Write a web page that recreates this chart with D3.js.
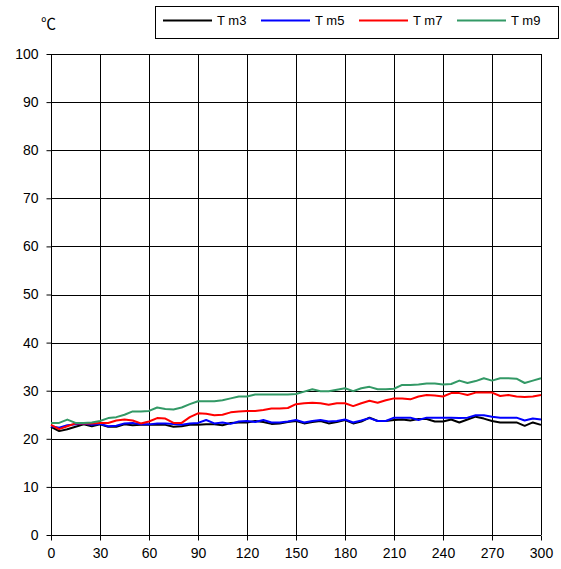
<!DOCTYPE html>
<html>
<head>
<meta charset="utf-8">
<script src="https://cdn.jsdelivr.net/npm/d3@7"></script>
<style>
  body { margin: 0; background: #fff; }
  text { font-family: "Liberation Sans", Arial, sans-serif; }
</style>
</head>
<body>
<div id="chart"></div>
<script>
var width = 561;
var height = 569;

// time axis, every 5 units
var times = d3.range(0, 301, 5);
var xTicks = [0, 30, 60, 90, 120, 150, 180, 210, 240, 270, 300];
var yTicks = [0, 10, 20, 30, 40, 50, 60, 70, 80, 90, 100];

var names = ["T m3", "T m5", "T m7", "T m9"];
var colors = ["#000000", "#0000ff", "#ff0000", "#339966"];

var m3 = [22.5, 21.6, 22.0, 22.5, 23.0, 22.6, 23.0, 22.5, 22.5, 23.0, 22.8, 22.9, 22.9, 22.9, 22.9, 22.5,
  22.6, 22.9, 22.9, 23.0, 23.0, 22.8, 23.3, 23.4, 23.4, 23.7, 23.5, 23.1, 23.2, 23.5, 23.7, 23.2,
  23.5, 23.7, 23.2, 23.5, 23.9, 23.2, 23.6, 24.4, 23.7, 23.7, 23.9, 24.0, 23.8, 24.1, 24.1, 23.6,
  23.6, 24.0, 23.4, 24.0, 24.6, 24.2, 23.7, 23.4, 23.4, 23.4, 22.7, 23.4, 22.9];
var m5 = [22.6, 22.3, 22.8, 23.0, 23.2, 22.9, 23.1, 22.6, 22.7, 23.2, 23.3, 23.0, 23.0, 23.2, 23.2, 23.1,
  22.9, 23.2, 23.3, 23.9, 23.2, 23.4, 23.1, 23.6, 23.7, 23.5, 23.9, 23.4, 23.4, 23.6, 23.9, 23.4,
  23.7, 23.9, 23.6, 23.7, 24.0, 23.4, 23.8, 24.3, 23.7, 23.7, 24.4, 24.4, 24.4, 23.9, 24.4, 24.4,
  24.4, 24.4, 24.3, 24.4, 24.9, 24.9, 24.6, 24.4, 24.4, 24.4, 23.8, 24.2, 24.0];
var m7 = [22.9, 22.0, 22.6, 23.2, 23.2, 23.2, 23.3, 23.3, 23.8, 24.0, 23.8, 23.2, 23.6, 24.3, 24.2, 23.3,
  23.3, 24.5, 25.3, 25.2, 24.9, 25.0, 25.5, 25.7, 25.8, 25.8, 26.0, 26.3, 26.3, 26.4, 27.2, 27.4,
  27.5, 27.4, 27.1, 27.4, 27.4, 26.8, 27.4, 27.9, 27.5, 28.0, 28.4, 28.4, 28.2, 28.8, 29.1, 29.0,
  28.8, 29.5, 29.5, 29.1, 29.6, 29.6, 29.6, 28.9, 29.1, 28.8, 28.7, 28.8, 29.1];
var m9 = [23.3, 23.3, 24.0, 23.3, 23.3, 23.4, 23.7, 24.3, 24.5, 25.0, 25.7, 25.7, 25.8, 26.5, 26.2, 26.1,
  26.5, 27.2, 27.8, 27.8, 27.8, 28.0, 28.4, 28.8, 28.8, 29.2, 29.2, 29.2, 29.2, 29.2, 29.3, 29.8,
  30.3, 29.9, 29.9, 30.2, 30.5, 29.9, 30.5, 30.8, 30.3, 30.3, 30.4, 31.2, 31.2, 31.3, 31.5, 31.5,
  31.3, 31.4, 32.1, 31.6, 32.0, 32.6, 32.1, 32.6, 32.6, 32.5, 31.6, 32.1, 32.6];
var series = [m3, m5, m7, m9];

var svg = d3.select("#chart")
    .append("svg")
    .attr("width", width)
    .attr("height", height);

var margin = ({top: 54, right: 20, bottom: 34, left: 51}),
    iwidth = 541 - margin.left,
    iheight = 535 - margin.top;

var x = d3.scaleLinear().domain([0, 300]).range([0, iwidth]);
var y = d3.scaleLinear().domain([0, 100]).range([iheight, 0]);

var g = svg.append("g")
    .attr("transform", "translate(" + margin.left + "," + margin.top + ")");

// grid lines
g.selectAll(".hgrid")
    .data(yTicks)
  .enter().append("line")
    .attr("x1", 0).attr("x2", iwidth)
    .attr("y1", function(d) { return Math.round(y(d)) + 0.5; })
    .attr("y2", function(d) { return Math.round(y(d)) + 0.5; })
    .attr("stroke", "#000")
    .attr("stroke-width", 1);
g.selectAll(".vgrid")
    .data(xTicks)
  .enter().append("line")
    .attr("y1", 0).attr("y2", iheight)
    .attr("x1", function(d) { return Math.round(x(d)) + 0.5; })
    .attr("x2", function(d) { return Math.round(x(d)) + 0.5; })
    .attr("stroke", "#000")
    .attr("stroke-width", 1);

// axes
g.append("g")
    .attr("transform", "translate(0," + (iheight + 0.5) + ")")
    .call(d3.axisBottom(x).tickValues(xTicks).tickSize(5).tickPadding(8))
    .call(function(a) {
      a.select(".domain").remove();
      a.selectAll("text").style("font-size", "14px").style("fill", "#000");
    });
g.append("g")
    .attr("transform", "translate(0.5,0)")
    .call(d3.axisLeft(y).tickValues(yTicks).tickSize(5).tickPadding(8))
    .call(function(a) {
      a.select(".domain").remove();
      a.selectAll("text").style("font-size", "14px").style("fill", "#000");
    });

// unit label
svg.append("text")
    .attr("x", 41)
    .attr("y", 29)
    .style("font-size", "15px")
    .style("font-family", "'Noto Sans CJK SC', sans-serif")
    .text("℃");

// lines
var line = d3.line()
    .x(function(d, i) { return x(times[i]); })
    .y(function(d) { return y(d); });

series.forEach(function(s, i) {
  g.append("path")
      .datum(s)
      .attr("fill", "none")
      .attr("stroke", colors[i])
      .attr("stroke-width", 2)
      .attr("stroke-linejoin", "round")
      .attr("d", line);
});

// legend
svg.append("rect")
    .attr("x", 155.5)
    .attr("y", 6.5)
    .attr("width", 403)
    .attr("height", 32)
    .attr("fill", "#fff")
    .attr("stroke", "#000");

names.forEach(function(n, i) {
  var lx = 163 + i * 98;
  svg.append("line")
      .attr("x1", lx).attr("x2", lx + 49)
      .attr("y1", 20.5).attr("y2", 20.5)
      .attr("stroke", colors[i])
      .attr("stroke-width", 2);
  svg.append("text")
      .attr("x", lx + 54)
      .attr("y", 25)
      .style("font-size", "13px")
      .text(n);
});
</script>
</body>
</html>
